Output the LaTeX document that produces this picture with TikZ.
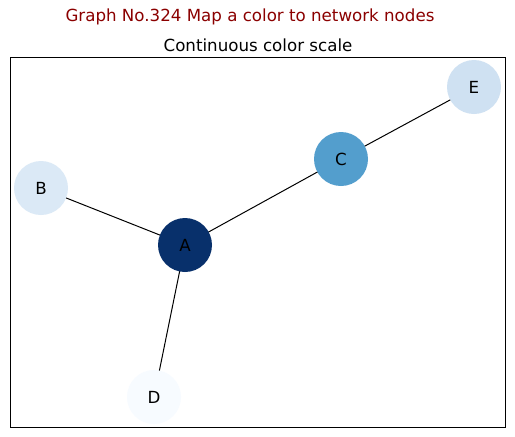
\documentclass[tikz,border=0pt]{standalone}
\usepackage{fontspec}
\setmainfont{DejaVu Sans}
\definecolor{titlered}{HTML}{8B0000}
\definecolor{cA}{HTML}{08306B}
\definecolor{cB}{HTML}{DBE9F6}
\definecolor{cC}{HTML}{539ECD}
\definecolor{cD}{HTML}{F7FBFF}
\definecolor{cE}{HTML}{CFE1F2}
\begin{document}
\begin{tikzpicture}[x=1pt,y=-1pt,
  txt/.style={font=\fontsize{16.67}{20}\selectfont, inner sep=0pt},
  gnode/.style={circle, minimum size=54pt, inner sep=0pt, draw=none, font=\fontsize{16.67}{20}\selectfont},
  edge/.style={draw=black, line width=1pt}]
\useasboundingbox (0,0) rectangle (515,437);
\fill[white] (0,0) rectangle (515,437);
\node[txt, text=titlered] (title) at (250,17) {Graph No.324 Map a color to network nodes};
\node[txt] (sub) at (258,45) {Continuous color scale};
\draw[line width=1pt] (10.7,57.7) rectangle (505.7,427.3);
\coordinate (pA) at (185,245);
\coordinate (pB) at (41,188);
\coordinate (pC) at (341,159);
\coordinate (pD) at (154,397);
\coordinate (pE) at (474,87);
\draw[edge] (pA) -- (pB);
\draw[edge] (pA) -- (pC);
\draw[edge] (pA) -- (pD);
\draw[edge] (pC) -- (pE);
\node[gnode, fill=cA] (A) at (pA) {A};
\node[gnode, fill=cB] (B) at (pB) {B};
\node[gnode, fill=cC] (C) at (pC) {C};
\node[gnode, fill=cD] (D) at (pD) {D};
\node[gnode, fill=cE] (E) at (pE) {E};
\end{tikzpicture}
\end{document}
